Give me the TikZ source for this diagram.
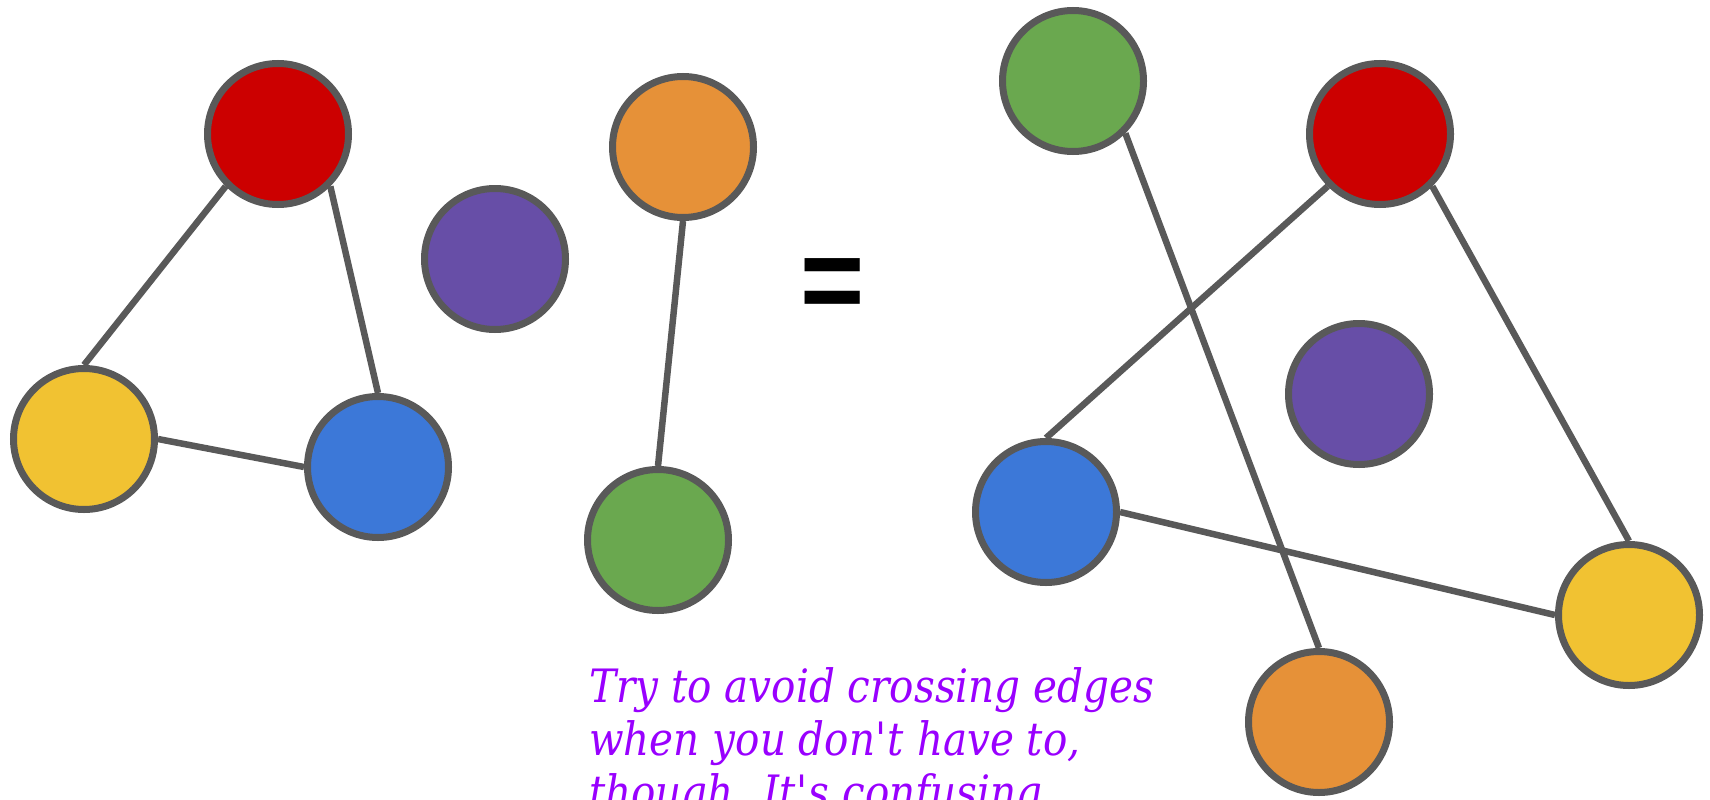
\documentclass[tikz,border=0pt]{standalone}
\usepackage{fontspec}
\setmainfont{DejaVu Serif}[ItalicFeatures={FakeStretch=0.88}]
\newfontfamily\eqfont{Liberation Sans}
\usetikzlibrary{positioning}
\definecolor{ink}{HTML}{595959}
\definecolor{cred}{HTML}{CC0000}
\definecolor{cpurple}{HTML}{674EA7}
\definecolor{cyellow}{HTML}{F1C232}
\definecolor{cblue}{HTML}{3C78D8}
\definecolor{corange}{HTML}{E69138}
\definecolor{cgreen}{HTML}{6AA84F}
\definecolor{note}{HTML}{9900FF}
\tikzset{vert/.style={circle,draw=ink,line width=7pt,minimum size=141pt,inner sep=0pt},link/.style={draw=ink,line width=6.5pt}}

\begin{document}
\begin{tikzpicture}[x=1pt,y=-1pt]
\useasboundingbox (0,0) rectangle (1710,800);
% left: triangle, lone vertex, one edge
\node[vert,fill=cred] (redA) at (278,134) {};
\node[vert,fill=cpurple] (purA) at (495,259) {};
\node[vert,fill=cyellow] (yelA) at (84,439) {};
\node[vert,fill=cblue] (bluA) at (378,467) {};
\node[vert,fill=corange] (oraA) at (683,147) {};
\node[vert,fill=cgreen] (greA) at (658,540) {};
\draw[link] (redA.south west)--(yelA.north);\draw[link] (redA.south east)--(bluA.north);
\draw[link] (yelA.east)--(bluA.west);
\draw[link] (oraA.south)--(greA.north);
\node[font=\eqfont\bfseries\fontsize{110}{110}\selectfont] (eq) at (833,290) {\scalebox{1}[1.1]{=}};
% right: same graph, crossed
\node[vert,fill=cgreen] (greB) at (1073,81) {};
\node[vert,fill=cred] (redB) at (1380,134) {};
\node[vert,fill=cpurple] (purB) at (1359,394) {};
\node[vert,fill=cblue] (bluB) at (1046,512) {};
\node[vert,fill=cyellow] (yelB) at (1629,615) {};
\node[vert,fill=corange] (oraB) at (1319,722) {};
\draw[link] (greB.south east)--(oraB.north);\draw[link] (redB.south west)--(bluB.north);
\draw[link] (redB.south east)--(yelB.north);\draw[link] (bluB.east)--(yelB.west);
\node[anchor=base west,inner sep=0pt,align=left,text=note,font=\itshape\fontsize{46}{53}\selectfont] (msg) at (589,808) {Try to avoid crossing edges\\when you don\textquotesingle t have to,\\though. It\textquotesingle s confusing};
\end{tikzpicture}
\end{document}
